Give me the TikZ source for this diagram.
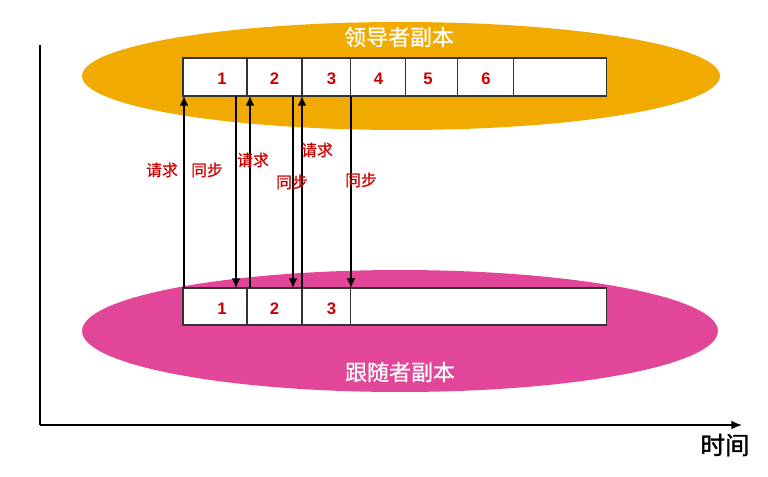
\documentclass[tikz,border=0pt]{standalone}
\usepackage{fontspec}
\setmainfont{Noto Sans CJK SC}
\newfontfamily\numfont{Liberation Sans}
\newfontfamily\heavycjk[FakeBold=1.5]{Noto Sans CJK SC}
\newfontfamily\midcjk[FakeBold=0.6]{Noto Sans CJK SC}
\usetikzlibrary{shapes,arrows,arrows.meta}
\usetikzlibrary{positioning,calc}
\definecolor{leaderOrange}{RGB}{240,170,0}
\definecolor{followerPink}{RGB}{226,70,152}
\definecolor{labelRed}{RGB}{204,0,0}

\begin{document}
\begin{tikzpicture}[x=0.02cm,y=-0.02cm]
\tikzset{myFont/.style={font=\midcjk\fontsize{9}{10}\selectfont}}
\tikzset{myCell/.style={draw=black!80,fill=white,line width=0.6pt,minimum height=0.76cm,inner sep=0pt,outer sep=0pt,text height=1.6ex,text depth=0pt,text=labelRed,font=\numfont\bfseries\fontsize{9.5}{10}\selectfont}}
\tikzset{myLabel/.style={text=labelRed,myFont,inner sep=0pt}}
\tikzset{myArrow/.style={draw,line width=0.8pt,-{Latex[length=5.5pt,width=5pt]}}}
\tikzset{myTitle/.style={text=white,font=\midcjk\fontsize{12.5}{13}\selectfont}}

\useasboundingbox (0,0) rectangle (768,477);

% the two replicas
\node[ellipse,fill=leaderOrange,minimum width=12.76cm,minimum height=2.16cm,inner sep=0pt] (leader) at (401,76) {};
\node[ellipse,fill=followerPink,minimum width=12.72cm,minimum height=2.44cm,inner sep=0pt] (follower) at (400,331) {};
\node[myTitle] (leaderName) at (399,37) {领导者副本};
\node[myTitle] (followerName) at (400,372) {跟随者副本};

% leader log
\node[myCell,minimum width=1.28cm,anchor=north west] (t1) at (183,58) {\kern0.28cm 1};
\node[myCell,minimum width=1.1cm,right=0pt of t1] (t2) {2};
\node[myCell,minimum width=0.98cm,right=0pt of t2] (t3) {\kern0.2cm 3};
\node[myCell,minimum width=1.1cm,right=0pt of t3] (t4) {4};
\node[myCell,minimum width=1.04cm,right=0pt of t4] (t5) {5\kern0.16cm};
\node[myCell,minimum width=1.12cm,right=0pt of t5] (t6) {6};
\node[myCell,minimum width=1.86cm,right=0pt of t6] (t7) {};

% follower log
\node[myCell,minimum width=1.28cm,minimum height=0.74cm,anchor=north west] (f1) at (183,288) {\kern0.28cm 1};
\node[myCell,minimum width=1.1cm,minimum height=0.74cm,right=0pt of f1] (f2) {2};
\node[myCell,minimum width=0.98cm,minimum height=0.74cm,right=0pt of f2] (f3) {\kern0.2cm 3};
\node[myCell,minimum width=5.12cm,minimum height=0.74cm,right=0pt of f3] (f4) {};

% fetch requests and syncs
\path[myArrow] ([xshift=0.02cm]f1.north west) -- ([xshift=0.02cm]t1.south west);
\path[myArrow] ([xshift=-0.22cm]t1.south east) -- ([xshift=-0.22cm]f1.north east);
\path[myArrow] ([xshift=0.06cm]f2.north west) -- ([xshift=0.06cm]t2.south west);
\path[myArrow] ([xshift=-0.18cm]t2.south east) -- ([xshift=-0.18cm]f2.north east);
\path[myArrow] (f3.north west) -- (t3.south west);
\path[myArrow] (t3.south east) -- (f3.north east);

\node[myLabel] (req1) at (162,170) {请求};
\node[myLabel] (sync1) at (207,170) {同步};
\node[myLabel] (req2) at (253,160) {请求};
\node[myLabel] (sync2) at (292,182) {同步};
\node[myLabel] (req3) at (317,150) {请求};
\node[myLabel] (sync3) at (361,180) {同步};

% time axis
\coordinate (yTop) at (40,45);
\coordinate (origin) at (40,425);
\coordinate (xEnd) at (742,425);
\draw[line width=1pt] (yTop) -- (origin);
\draw[line width=1pt,-{Latex[length=6pt,width=5pt]}] (origin) -- (xEnd);
\node[font=\heavycjk\fontsize{14}{15}\selectfont] (timeLabel) at (725,445) {时间};

\end{tikzpicture}
\end{document}
